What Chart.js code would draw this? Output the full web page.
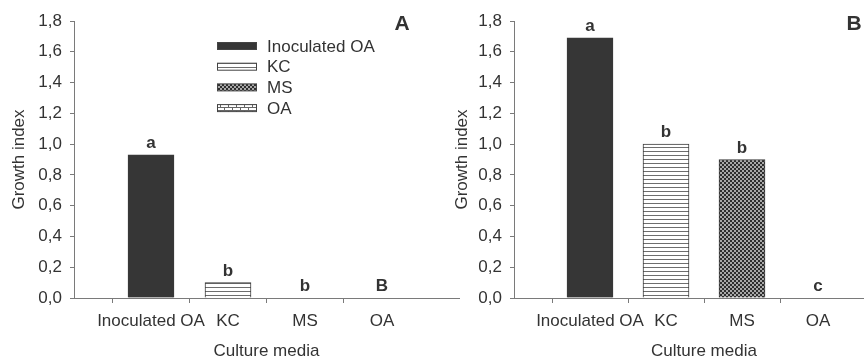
<!DOCTYPE html>
<html>
<head>
<meta charset="utf-8">
<script src="https://cdn.jsdelivr.net/npm/chart.js@4.4.0/dist/chart.umd.min.js"></script>
<style>
  html, body { margin: 0; padding: 0; background: #fff; }
  body { width: 864px; height: 357px; overflow: hidden; position: relative; }
  .panel { position: absolute; top: 0; width: 470px; height: 357px; }
  #panelA { left: 0; }
  #panelB { left: 432px; }
</style>
</head>
<body>
<div class="panel" id="panelA"><canvas id="chartA"></canvas></div>
<div class="panel" id="panelB"><canvas id="chartB"></canvas></div>
<script>
// ---- data ----
const categories = ['Inoculated OA', 'KC', 'MS', 'OA'];
const growthA = [0.93, 0.10, 0, 0];
const growthB = [1.69, 1.00, 0.90, 0];
const lettersA = ['a', 'b', 'b', 'B'];
const lettersB = ['a', 'b', 'b', 'c'];
const yTickLabels = ['0,0', '0,2', '0,4', '0,6', '0,8', '1,0', '1,2', '1,4', '1,6', '1,8'];

const FONT = 'Liberation Sans';
const TEXT = '#333333';
const AXIS = '#7a7a7a';

// ---- fill patterns ----
function makePattern(w, h, draw) {
  const c = document.createElement('canvas');
  c.width = w; c.height = h;
  const g = c.getContext('2d');
  draw(g);
  return g.createPattern(c, 'repeat');
}
const solidFill = '#363636';
const linesFill = makePattern(4, 4, (g) => {
  g.fillStyle = '#fff'; g.fillRect(0, 0, 4, 4);
  g.fillStyle = '#6e6e6e'; g.fillRect(0, 3, 4, 1);
});
const checkFill = makePattern(4, 4, (g) => {
  g.fillStyle = '#2e2e2e'; g.fillRect(0, 0, 4, 4);
  g.fillStyle = '#a8a8a8'; g.fillRect(0, 0, 2, 2); g.fillRect(2, 2, 2, 2);
});
const brickFill = makePattern(8, 6, (g) => {
  g.fillStyle = '#fff'; g.fillRect(0, 0, 8, 6);
  g.fillStyle = '#666';
  g.fillRect(0, 2, 8, 1); g.fillRect(0, 5, 8, 1);
  g.fillRect(0, 0, 1, 2); g.fillRect(4, 3, 1, 2);
});
const fills = [solidFill, linesFill, checkFill, brickFill];

// padded category axis: empty slots at both ends, bars sit at positions 1..4
const labels = ['', ...categories, ''];
const pad = (arr) => [null, ...arr, null];

// ---- plugins ----
const letterPlugin = {
  id: 'letters',
  afterDatasetsDraw(chart, args, opts) {
    const { ctx } = chart;
    const meta = chart.getDatasetMeta(0);
    ctx.save();
    ctx.fillStyle = TEXT;
    ctx.font = `bold 17px "${FONT}"`;
    ctx.textAlign = 'center';
    ctx.textBaseline = 'bottom';
    opts.letters.forEach((l, i) => {
      const bar = meta.data[i + 1];
      if (bar) ctx.fillText(l, bar.x, bar.y - 3);
    });
    ctx.font = `bold 21px "${FONT}"`;
    ctx.textBaseline = 'middle';
    ctx.fillText(opts.panel, opts.panelX, 24);
    ctx.restore();
  },
};

const legendPlugin = {
  id: 'boxLegend',
  afterDatasetsDraw(chart, args, opts) {
    if (!opts.show) return;
    const { ctx } = chart;
    ctx.save();
    ctx.font = `17px "${FONT}"`;
    ctx.textBaseline = 'middle';
    ctx.textAlign = 'left';
    categories.forEach((name, i) => {
      const y = 46 + i * 20.7;
      ctx.fillStyle = fills[i];
      ctx.fillRect(217, y - 3.5, 40, 7);
      ctx.strokeStyle = '#444';
      ctx.lineWidth = 1;
      ctx.strokeRect(217.5, y - 3.5, 39, 7);
      ctx.fillStyle = TEXT;
      ctx.fillText(name, 267, y + 1);
    });
    ctx.restore();
  },
};

function makeChart(id, values, letters, opts) {
  const ctx = document.getElementById(id).getContext('2d');
  return new Chart(ctx, {
    type: 'bar',
    data: {
      labels,
      datasets: [{
        data: pad(values),
        backgroundColor: (c) => (c.raw ? fills[c.dataIndex - 1] : 'rgba(0,0,0,0)'),
        borderColor: '#3a3a3a',
        borderWidth: (c) => (c.raw ? 1 : 0),
        barThickness: 46,
      }],
    },
    options: {
      responsive: true,
      maintainAspectRatio: false,
      animation: false,
      layout: { padding: { left: 0, top: 21, right: opts.padRight, bottom: 0 } },
      plugins: {
        legend: { display: false },
        tooltip: { enabled: false },
        letters: { letters, panel: opts.panel, panelX: opts.panelX },
        boxLegend: { show: opts.legend },
      },
      scales: {
        x: {
          offset: false,
          border: { color: AXIS, width: 1 },
          grid: {
            drawOnChartArea: false,
            tickLength: 5,
            color: (c) => (c.index === 0 || c.index === labels.length - 1 ? 'rgba(0,0,0,0)' : AXIS),
          },
          ticks: { color: TEXT, font: { family: FONT, size: 17 }, padding: 8, maxRotation: 0, autoSkip: false },
          title: { display: true, text: 'Culture media', color: TEXT, font: { family: FONT, size: 17 }, padding: { top: 0, bottom: -5 } },
          afterFit: (s) => { s.height = 59; },
        },
        y: {
          min: 0,
          max: 1.8,
          border: { color: AXIS, width: 1 },
          grid: { drawOnChartArea: false, tickLength: 4, color: AXIS },
          ticks: {
            stepSize: 0.2,
            color: TEXT,
            font: { family: FONT, size: 17 },
            padding: 8,
            callback: (v, i) => yTickLabels[i],
          },
          title: { display: true, text: 'Growth index', color: TEXT, font: { family: FONT, size: 17 }, padding: { top: opts.titlePad, bottom: 0 } },
          afterFit: (s) => { s.width = opts.axisLeft; },
        },
      },
    },
    plugins: [letterPlugin, legendPlugin],
  });
}

makeChart('chartA', growthA, lettersA, { panel: 'A', panelX: 402, padRight: 11, axisLeft: 74, titlePad: 9, legend: true });
makeChart('chartB', growthB, lettersB, { panel: 'B', panelX: 422, padRight: 2, axisLeft: 82, titlePad: 20, legend: false });
</script>
</body>
</html>
